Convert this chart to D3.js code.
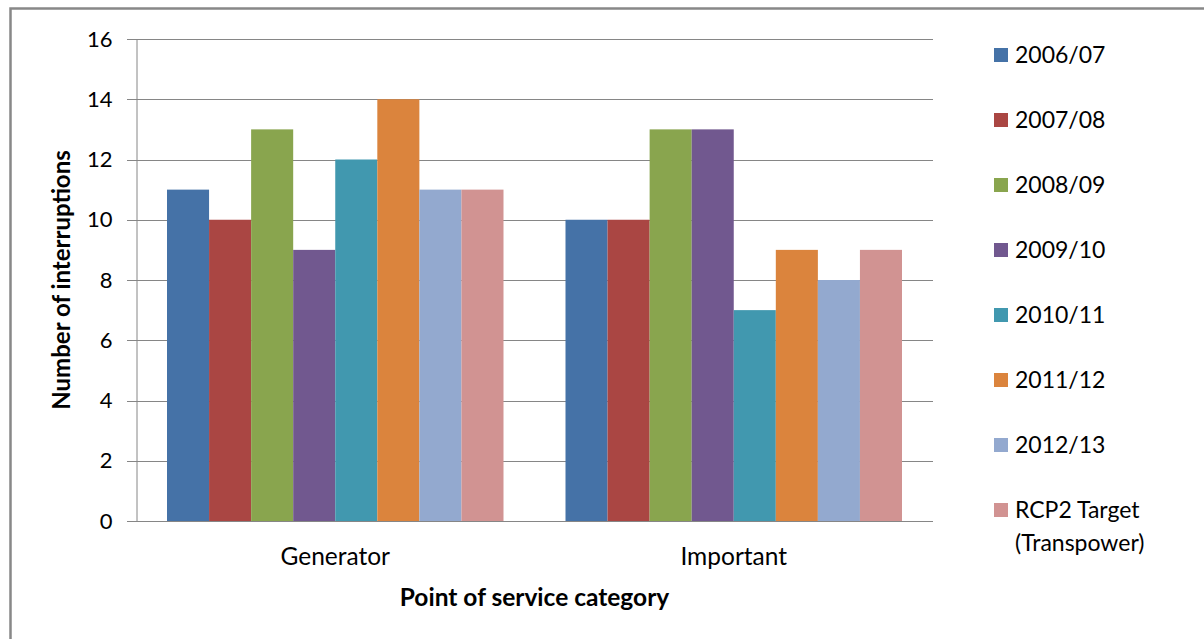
<!DOCTYPE html>
<html lang="en">
<head>
<meta charset="UTF-8">
<title>Interruptions by point of service category</title>
<script src="https://cdn.jsdelivr.net/npm/d3@7"></script>
<style>
    body { margin: 0; background: #fff; }
    svg { display: block; font-family: Lato, "Open Sans", sans-serif; }
    .grid line { stroke: #868686; stroke-width: 1px; }
    .tick text { fill: #000; }
</style>
</head>
<body>
<script>
    // data
    var categories = ["Generator", "Important"];
    var seriesNames = ["2006/07", "2007/08", "2008/09", "2009/10", "2010/11", "2011/12", "2012/13", "RCP2 Target (Transpower)"];
    var generatorValues = [11, 10, 13, 9, 12, 14, 11, 11];
    var importantValues = [10, 10, 13, 13, 7, 9, 8, 9];
    var colors = ["#4572A7", "#AA4643", "#89A54E", "#71588F", "#4198AF", "#DB843D", "#93A9CF", "#D19392"];
    var yTicks = [0, 2, 4, 6, 8, 10, 12, 14, 16];

    var values = [generatorValues, importantValues];
    var rows = [];
    categories.forEach(function (c, ci) {
        seriesNames.forEach(function (s, si) {
            rows.push({ cat: c, series: s, si: si, value: values[ci][si] });
        });
    });

    var W = 1204, H = 639;
    var plotL = 136, plotR = 933, plotT = 39, plotB = 521;

    var svg = d3.select("body").append("svg")
        .attr("width", W)
        .attr("height", H);

    // outer chart border (only top and left show in the frame)
    svg.append("rect")
        .attr("x", 10.5).attr("y", 8.5)
        .attr("width", W + 20).attr("height", H + 20)
        .attr("fill", "none")
        .attr("stroke", "#888")
        .attr("stroke-width", 2.5);

    var x = d3.scaleBand()
        .domain(categories)
        .range([plotL, plotR]);

    var groupPad = 31;
    var xs = d3.scaleBand()
        .domain(d3.range(seriesNames.length))
        .range([groupPad, x.bandwidth() - groupPad]);

    var y = d3.scaleLinear()
        .domain([0, 16])
        .range([plotB, plotT]);

    // gridlines
    svg.append("g")
        .attr("class", "grid")
        .selectAll("line")
        .data(yTicks)
        .enter()
        .append("line")
        .attr("x1", plotL - 9)
        .attr("x2", plotR)
        .attr("y1", d => Math.round(y(d)) + 0.5)
        .attr("y2", d => Math.round(y(d)) + 0.5);

    // bars
    svg.append("g")
        .selectAll("rect")
        .data(rows)
        .enter()
        .append("rect")
        .attr("x", d => x(d.cat) + xs(d.si))
        .attr("width", xs.bandwidth())
        .attr("y", d => y(d.value))
        .attr("height", d => y(0) - y(d.value))
        .attr("fill", d => colors[d.si]);

    // y axis
    var yAxis = svg.append("g")
        .attr("transform", "translate(" + (plotL + 0.5) + ",0)")
        .call(d3.axisLeft(y).tickValues(yTicks).tickSize(0).tickPadding(24));
    yAxis.select(".domain").attr("stroke", "#868686");
    yAxis.selectAll("text").attr("font-size", "22px").attr("font-family", "Lato");

    // x axis baseline + labels
    svg.append("line")
        .attr("x1", plotL - 9).attr("x2", plotR)
        .attr("y1", Math.round(y(0)) + 0.5).attr("y2", Math.round(y(0)) + 0.5)
        .attr("stroke", "#868686");

    svg.append("g")
        .selectAll("text")
        .data(categories)
        .enter()
        .append("text")
        .attr("x", d => x(d) + x.bandwidth() / 2)
        .attr("y", 565)
        .attr("text-anchor", "middle")
        .attr("font-size", "24.5px")
        .text(d => d);

    // axis titles
    svg.append("text")
        .attr("transform", "translate(70," + ((plotT + plotB) / 2) + ") rotate(-90)")
        .attr("text-anchor", "middle")
        .attr("font-size", "24px")
        .attr("font-weight", "bold")
        .text("Number of interruptions");

    svg.append("text")
        .attr("x", (plotL + plotR) / 2)
        .attr("y", 606)
        .attr("text-anchor", "middle")
        .attr("font-size", "24.5px")
        .attr("font-weight", "bold")
        .text("Point of service category");

    // legend
    var legend = svg.append("g")
        .selectAll("g")
        .data(seriesNames)
        .enter()
        .append("g")
        .attr("transform", (d, i) => "translate(994," + (55 + i * 65) + ")");

    legend.append("rect")
        .attr("y", -7)
        .attr("width", 14)
        .attr("height", 14)
        .attr("fill", (d, i) => colors[i]);

    legend.append("text")
        .attr("x", 21)
        .attr("y", 8)
        .attr("font-size", "23px")
        .each(function (d) {
            var t = d3.select(this);
            var parts = d === "RCP2 Target (Transpower)" ? ["RCP2 Target", "(Transpower)"] : [d];
            parts.forEach(function (p, k) {
                t.append("tspan").attr("x", 21).attr("dy", k ? 33 : 0).text(p);
            });
        });
</script>
</body>
</html>
